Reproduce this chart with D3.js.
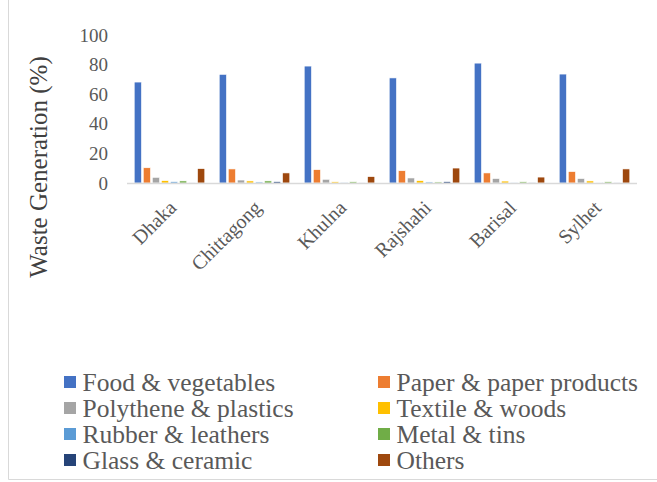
<!DOCTYPE html>
<html>
<head>
<meta charset="utf-8">
<script src="https://cdn.jsdelivr.net/npm/d3@7"></script>
<style>
  html, body { margin: 0; padding: 0; background: #fff; }
  svg { display: block; }
</style>
</head>
<body>
<svg id="chart" width="657" height="482"></svg>
<script>
// Cities on the x axis
const cities = ["Dhaka", "Chittagong", "Khulna", "Rajshahi", "Barisal", "Sylhet"];

// Waste categories (series)
const categories = [
  "Food & vegetables", "Paper & paper products", "Polythene & plastics", "Textile & woods",
  "Rubber & leathers", "Metal & tins", "Glass & ceramic", "Others"
];

// Percent share per city, one array per category
const food     = [68.2, 73.4, 79.0, 71.0, 81.0, 73.6];
const paper    = [10.3, 9.5, 9.0, 8.3, 6.8, 7.7];
const plastics = [3.8, 2.0, 2.5, 3.4, 3.0, 3.0];
const textile  = [1.6, 1.4, 0.8, 1.6, 1.3, 1.4];
const rubber   = [0.9, 0.7, 0.2, 0.7, 0.1, 0.3];
const metal    = [1.4, 1.4, 0.8, 0.7, 0.8, 0.8];
const glass    = [0.3, 0.9, 0.3, 0.9, 0.1, 0.4];
const others   = [9.7, 6.8, 4.3, 10.1, 4.0, 9.5];

const yTicks = [0, 20, 40, 60, 80, 100];

const colors = ["#4472C4", "#ED7D31", "#A5A5A5", "#FFC000", "#5B9BD5", "#70AD47", "#264478", "#9E480E"];

const seriesValues = [food, paper, plastics, textile, rubber, metal, glass, others];

const serif = '"Liberation Serif"';
const svg = d3.select("#chart");
const textColor = "#595959";

// frame
svg.append("line").attr("x1", 8.5).attr("x2", 8.5).attr("y1", 0).attr("y2", 479.5)
  .attr("stroke", "#d9d9d9").attr("stroke-width", 1);
svg.append("line").attr("x1", 8.5).attr("x2", 657).attr("y1", 479.5).attr("y2", 479.5)
  .attr("stroke", "#d9d9d9").attr("stroke-width", 1);

const plot = { left: 127, right: 637, top: 35, bottom: 183 };

const x = d3.scaleBand().domain(cities).range([plot.left, plot.right]).paddingInner(0.17).paddingOuter(0.085);
const xs = d3.scaleBand().domain(categories).range([0, x.bandwidth()]).paddingInner(0.2).paddingOuter(0);
const y = d3.scaleLinear().domain([0, 100]).range([plot.bottom, plot.top]);

// y tick labels
svg.append("g").selectAll("text").data(yTicks).join("text")
  .style("font-family", serif)
  .attr("x", 108).attr("y", d => y(d)).attr("dy", "0.35em")
  .attr("text-anchor", "end").attr("font-size", 19).attr("fill", textColor)
  .text(d => d);

// bars
const groups = svg.append("g").selectAll("g").data(cities).join("g")
  .attr("transform", d => `translate(${x(d)},0)`);

groups.selectAll("rect")
  .data((c, ci) => categories.map((cat, k) => ({ cat, k, v: seriesValues[k][ci] })))
  .join("rect")
  .attr("x", d => xs(d.cat))
  .attr("width", xs.bandwidth())
  .attr("y", d => y(d.v))
  .attr("height", d => y(0) - y(d.v))
  .attr("fill", d => colors[d.k])
  .attr("stroke", "#fff").attr("stroke-width", 0.6);

// baseline
svg.append("line").attr("x1", plot.left).attr("x2", plot.right)
  .attr("y1", plot.bottom + 0.5).attr("y2", plot.bottom + 0.5)
  .attr("stroke", "#d9d9d9").attr("stroke-width", 1.5);

// x axis labels
svg.append("g").selectAll("text").data(cities).join("text")
  .style("font-family", serif)
  .attr("transform", d => `translate(${x(d) + x.bandwidth() / 2 + 3},${plot.bottom + 21}) rotate(-45)`)
  .attr("text-anchor", "end").attr("dy", "0.35em")
  .attr("font-size", 20).attr("fill", textColor)
  .text(d => d);

// y title
svg.append("text")
  .style("font-family", serif)
  .attr("transform", `translate(47,167) rotate(-90)`)
  .attr("text-anchor", "middle").attr("font-size", 25).attr("fill", "#404040")
  .text("Waste Generation (%)");

// legend: two columns, four rows
const legend = svg.append("g");
const legItems = legend.selectAll("g").data(categories).join("g")
  .attr("transform", (d, i) => `translate(${i % 2 === 0 ? 64 : 378},${382 + Math.floor(i / 2) * 26})`);
legItems.append("rect").attr("x", 0).attr("y", -6).attr("width", 12).attr("height", 12)
  .attr("fill", (d, i) => colors[i]);
legItems.append("text")
  .style("font-family", serif)
  .attr("x", 18.5).attr("y", 8.5)
  .attr("font-size", 25.5).attr("fill", textColor)
  .text(d => d);
</script>
</body>
</html>
